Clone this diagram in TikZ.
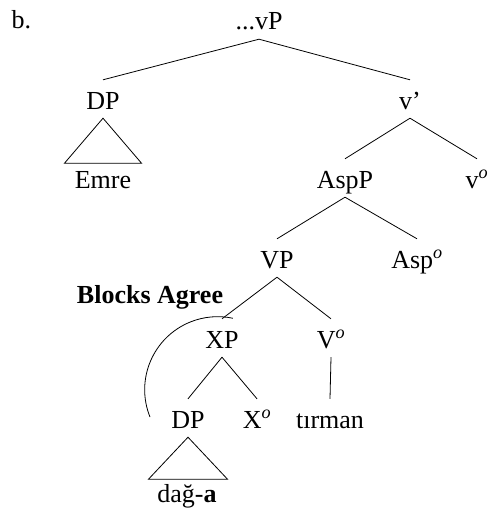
\documentclass[tikz,border=0pt]{standalone}
\usepackage{fontspec}
\setmainfont{Liberation Serif}
\newcommand{\hd}{\textsuperscript{\textit{o}}}
\begin{document}
\begin{tikzpicture}[x=1pt,y=1pt,
  cat/.style={anchor=base, inner sep=0pt, text height=29pt, text depth=9pt,
              font=\fontsize{26}{30}\selectfont},
  branch/.style={line width=0.8pt},
  agree/.style={line width=0.8pt}]
\useasboundingbox (0,0) rectangle (488,-511);

% example label
\node[anchor=base west, inner sep=0pt, font=\fontsize{26}{30}\selectfont] (ex) at (11.5,-29) {b.};

% tree nodes (placed at their baselines)
\node[cat] (vp)   at (259,-30)  {...vP};
\node[cat] (dpa)  at (103,-109) {DP};
\node[cat] (vbar) at (410,-109) {v’};
\node[cat] (emre) at (103,-188) {Emre};
\node[cat] (aspp) at (345,-188) {AspP};
\node[cat] (vhd)  at (477,-188) {v\hd};
\node[cat] (vpp)  at (277,-268) {VP};
\node[cat] (asp)  at (417,-268) {Asp\hd};
\node[cat] (xp)   at (222,-348) {XP};
\node[cat] (vh)   at (331,-348) {V\hd};
\node[cat] (dpb)  at (188,-428) {DP};
\node[cat] (xh)   at (257,-428) {X\hd};
\node[cat] (tir)  at (330,-428) {tırman};
\node[cat] (dag)  at (187,-502) {dağ-\textbf{a}};
\node[anchor=base, inner sep=0pt, font=\fontsize{26}{30}\selectfont\bfseries] (blk) at (150,-303) {Blocks Agree};

% branches
\draw[branch] (vp.south) -- (dpa.north);
\draw[branch] (vp.south) -- (vbar.north);
\draw[branch] (vbar.south) -- (aspp.north);
\draw[branch] (vbar.south) -- (vhd.north);
\draw[branch] (aspp.south) -- (vpp.north);
\draw[branch] (aspp.south) -- (asp.north);
\draw[branch] (vpp.south) -- (xp.north);
\draw[branch] (vpp.south) -- (vh.north);
\draw[branch] (xp.south) -- (dpb.north);
\draw[branch] (xp.south) -- (xh.north);
\draw[branch] (vh.south) -- (tir.north);

% triangles over unanalysed constituents
\draw[branch] (dpa.south) -- ++(-38.5,-45) -- ++(77,0) -- cycle;
\draw[branch] (dpb.south) -- ++(-39.5,-42) -- ++(79,0) -- cycle;

% blocking arc
\coordinate (arcstart) at (150,-417);
\draw[agree] (arcstart) arc[start angle=202, end angle=78, radius=73];
\end{tikzpicture}
\end{document}
